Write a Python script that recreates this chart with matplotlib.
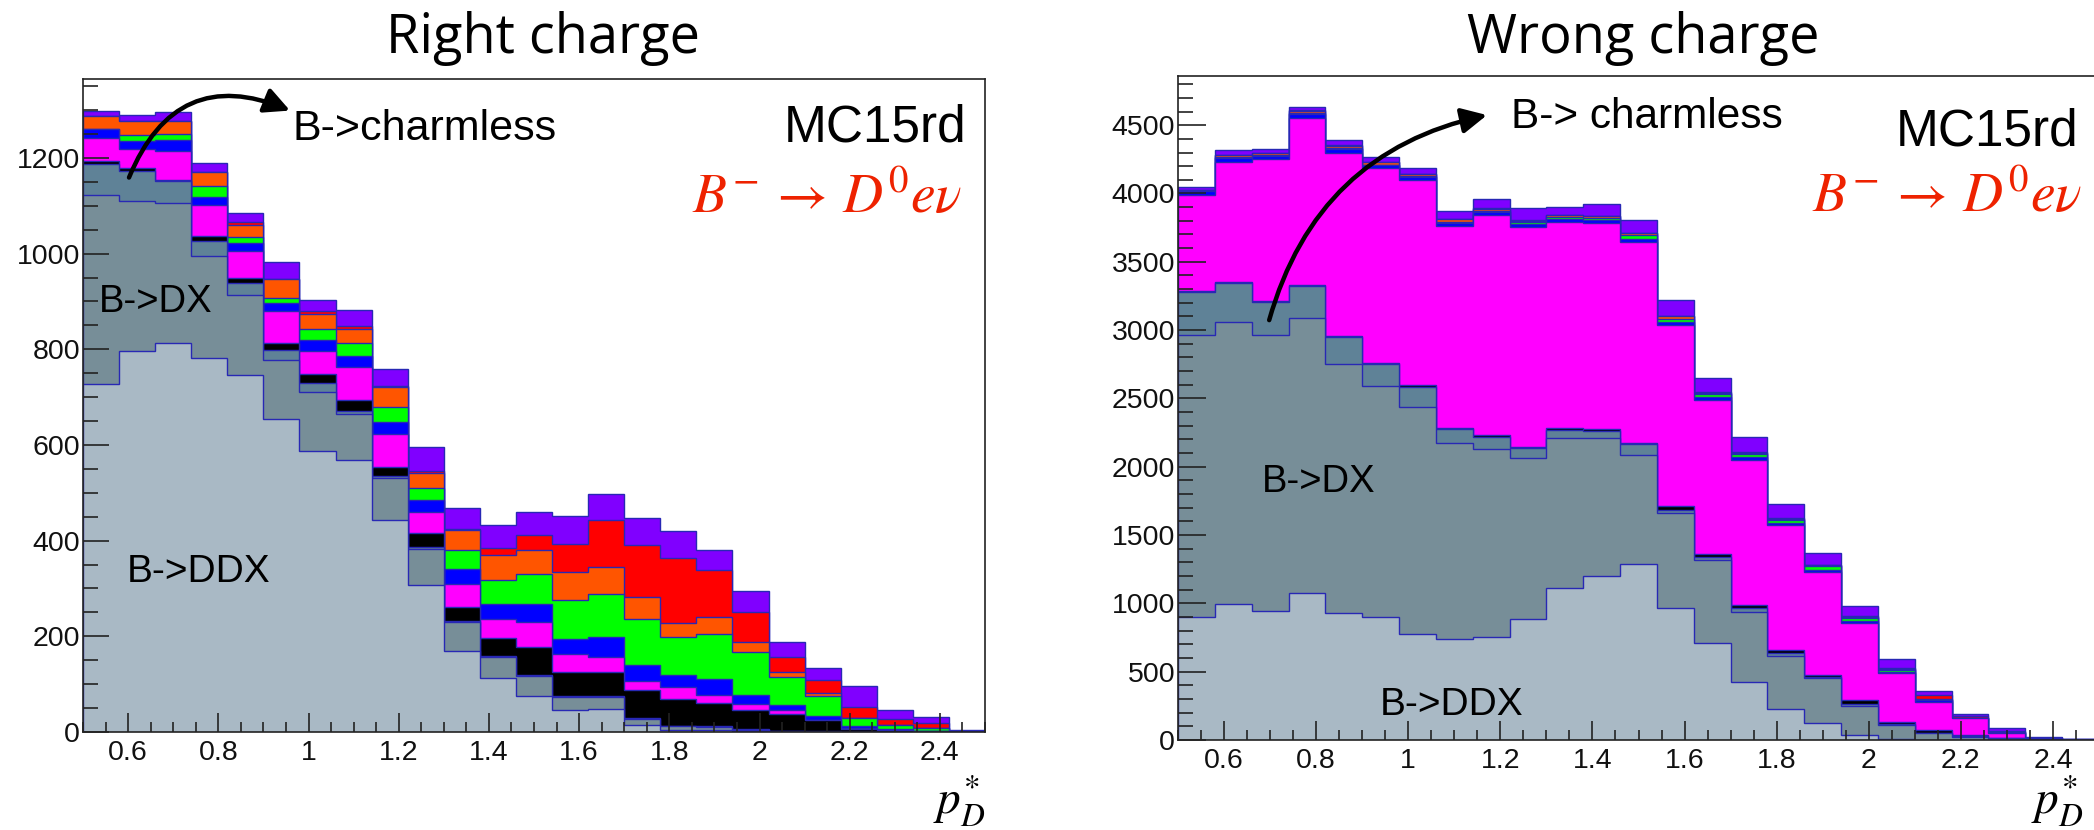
import numpy as np
import matplotlib
matplotlib.use("Agg")
import matplotlib.pyplot as plt
from matplotlib.ticker import MultipleLocator, FuncFormatter

plt.rcParams['mathtext.fontset'] = 'stix'

W, H = 2094, 830

# ---------------- data ----------------
edges = np.round(np.arange(0.5, 2.5001, 0.08), 4)
components = ["B->DDX", "B->DX", "B->charmless", "other1", "other2", "other3",
              "other4", "other5", "signal", "other6"]
colors = ['#a9b9c5', '#778e98', '#5f8297', '#000000', '#ff00ff', '#0000ff',
          '#00ff00', '#ff5500', '#ff0000', '#8000ff']
edge_color = '#2828b4'

# Right charge
rc_ddx = [728, 797, 813, 781, 747, 655, 587, 568, 444, 308, 170, 113, 75, 46, 49, 15, 5, 5, 2, 1, 0, 0, 0, 0, 0]
rc_dx = [395, 312, 292, 213, 167, 122, 123, 97, 87, 75, 59, 43, 42, 28, 25, 13, 7, 6, 3, 1, 1, 0, 0, 0, 0]
rc_charmless = [64, 64, 46, 33, 24, 22, 19, 7, 4, 4, 3, 2, 2, 2, 2, 2, 1, 1, 1, 1, 1, 1, 0, 0, 0]
rc_black = [7, 6, 3, 9, 11, 14, 20, 21, 19, 28, 30, 38, 59, 50, 50, 57, 57, 48, 40, 34, 23, 6, 4, 3, 1]
rc_magenta = [47, 40, 61, 66, 57, 68, 48, 70, 69, 44, 48, 40, 52, 37, 31, 20, 24, 17, 12, 10, 0, 1, 1, 0, 0]
rc_blue = [19, 17, 22, 17, 16, 15, 23, 24, 26, 25, 31, 32, 38, 32, 42, 33, 25, 33, 19, 9, 8, 4, 2, 0, 0]
rc_green = [0, 12, 13, 23, 12, 11, 23, 26, 30, 27, 39, 50, 62, 81, 90, 96, 80, 94, 91, 58, 42, 18, 7, 5, 1]
rc_orange = [28, 30, 28, 28, 26, 40, 31, 30, 43, 31, 42, 52, 50, 59, 56, 47, 29, 37, 20, 12, 7, 0, 0, 0, 0]
rc_red = [0, 0, 0, 0, 7, 0, 7, 5, 2, 4, 3, 14, 31, 59, 98, 107, 135, 97, 63, 31, 26, 23, 14, 10, 1]
rc_purple = [11, 12, 17, 19, 18, 35, 22, 34, 34, 50, 43, 48, 49, 57, 55, 57, 57, 43, 43, 31, 26, 43, 18, 14, 1]

# Wrong charge
wc_ddx = [902, 992, 946, 1073, 927, 902, 778, 737, 756, 883, 1116, 1200, 1285, 963, 712, 427, 228, 122, 36, 8, 2, 0, 0, 0, 0]
wc_dx = [2062, 2069, 2018, 2017, 1824, 1691, 1656, 1434, 1371, 1178, 1091, 1007, 800, 695, 605, 512, 387, 329, 215, 101, 46, 24, 10, 2, 0]
wc_charmless = [317, 281, 243, 235, 200, 156, 151, 102, 92, 73, 61, 54, 78, 25, 24, 24, 19, 9, 9, 6, 2, 2, 1, 1, 0]
wc_black = [9, 8, 8, 8, 9, 9, 10, 12, 13, 12, 17, 12, 12, 29, 20, 27, 26, 15, 32, 19, 23, 10, 6, 2, 1]
wc_magenta = [698, 882, 1037, 1223, 1338, 1425, 1503, 1476, 1610, 1606, 1508, 1513, 1472, 1325, 1127, 1059, 913, 752, 561, 354, 207, 122, 31, 3, 1]
wc_blue = [27, 28, 23, 29, 27, 22, 22, 24, 23, 28, 22, 22, 23, 23, 22, 21, 17, 18, 17, 12, 14, 3, 4, 2, 1]
wc_green = [3, 5, 5, 5, 5, 5, 5, 5, 10, 8, 15, 14, 25, 25, 20, 20, 20, 25, 25, 15, 2, 2, 3, 1, 0]
wc_orange = [7, 15, 15, 15, 20, 20, 15, 20, 13, 12, 12, 13, 15, 15, 10, 10, 10, 8, 5, 5, 1, 1, 1, 1, 1]
wc_red = [2, 3, 3, 5, 2, 2, 2, 2, 4, 3, 4, 3, 3, 3, 5, 5, 5, 4, 5, 8, 32, 11, 9, 3, 1]
wc_purple = [22, 34, 29, 20, 39, 37, 46, 62, 65, 88, 57, 84, 95, 117, 103, 110, 105, 84, 75, 62, 32, 15, 20, 4, 2]

rc_stack = [rc_ddx, rc_dx, rc_charmless, rc_black, rc_magenta, rc_blue,
            rc_green, rc_orange, rc_red, rc_purple]
wc_stack = [wc_ddx, wc_dx, wc_charmless, wc_black, wc_magenta, wc_blue,
            wc_green, wc_orange, wc_red, wc_purple]

titles = ["Right charge", "Wrong charge"]
x_ticks = [0.6, 0.8, 1.0, 1.2, 1.4, 1.6, 1.8, 2.0, 2.2, 2.4]

# ---------------- figure ----------------
fig = plt.figure(figsize=(W / 100, H / 100), dpi=100)


def fx(x):
    return x / W


def fy(y):
    return 1 - y / H


def axes_px(l, t, r, b):
    return fig.add_axes([fx(l), fy(b), (r - l) / W, (b - t) / H])


axL = axes_px(83, 79, 985, 732)
axR = axes_px(1178, 76, 2099, 740)


def draw_stack(ax, stack):
    cum = np.zeros(len(edges) - 1)
    tops = []
    for vals in stack:
        cum = cum + np.asarray(vals, dtype=float)
        tops.append(cum.copy())
    for top, c in reversed(list(zip(tops, colors))):
        ax.stairs(top, edges, baseline=0, fill=True, facecolor=c,
                  edgecolor=edge_color, linewidth=1.0)


def style_axes(ax, ymax, ymajor, yminor, ylen):
    ax.set_xlim(0.5, 2.5)
    ax.set_ylim(0, ymax)
    ax.set_xticks(x_ticks)
    ax.xaxis.set_minor_locator(MultipleLocator(0.05))
    ax.yaxis.set_major_locator(MultipleLocator(ymajor))
    ax.yaxis.set_minor_locator(MultipleLocator(yminor))
    ax.xaxis.set_major_formatter(FuncFormatter(lambda v, p: f"{v:g}"))
    ax.yaxis.set_major_formatter(FuncFormatter(lambda v, p: f"{v:g}"))
    ax.tick_params(axis='both', which='both', direction='in', top=False,
                   right=False, width=1.2, colors='#222222',
                   labelsize=20.5, labelcolor='#111111')
    ax.tick_params(axis='y', which='major', length=ylen, pad=2)
    ax.tick_params(axis='y', which='minor', length=ylen * 0.55)
    ax.tick_params(axis='x', which='major', length=14, pad=6)
    ax.tick_params(axis='x', which='minor', length=7)
    for lab in ax.get_xticklabels() + ax.get_yticklabels():
        lab.set_fontfamily(['Liberation Sans', 'DejaVu Sans'])
    for s in ax.spines.values():
        s.set_linewidth(1.2)
        s.set_color('#222222')
    ax.set_axisbelow(False)


draw_stack(axL, rc_stack)
draw_stack(axR, wc_stack)
style_axes(axL, 1365, 200, 50, 19)
style_axes(axR, 4860, 500, 100, 20)

# arrows to the charmless component
axL.annotate('', xy=(0.959, 1299), xytext=(0.602, 1159),
             arrowprops=dict(arrowstyle='-|>', connectionstyle='arc3,rad=-0.5',
                             lw=3.2, color='black', mutation_scale=38,
                             shrinkA=0, shrinkB=0))
axR.annotate('', xy=(1.171, 4574), xytext=(0.698, 3073),
             arrowprops=dict(arrowstyle='-|>', connectionstyle='arc3,rad=-0.3',
                             lw=3.2, color='black', mutation_scale=38,
                             shrinkA=0, shrinkB=0))

sans = ['Liberation Sans', 'DejaVu Sans']


def ftext(x, y, s, size, ha='left', color='black', family=None, **kw):
    fig.text(fx(x), fy(y), s, fontsize=size, ha=ha, va='baseline',
             color=color, family=family if family else sans, **kw)


decay = r"$B^{-}\,\rightarrow\,D^{0}e\nu$"
xlabel = r"$p_{D}^{*}$"

# titles
ftext(543, 53, titles[0], 39, ha='center', family=['Open Sans', 'DejaVu Sans'])
ftext(1643, 53, titles[1], 39, ha='center', family=['Open Sans', 'DejaVu Sans'])

# left panel labels
ftext(292, 140, "B->charmless", 31)
ftext(967, 142, "MC15rd", 37, ha='right')
ftext(962, 213, decay, 40, ha='right', color='#ee2200')
ftext(99, 312, "B->DX", 27.5)
ftext(127, 582, "B->DDX", 28)
ftext(985, 814, xlabel, 34, ha='right')

# right panel labels
ftext(1511, 128, "B-> charmless", 30.5)
ftext(2078, 145, "MC15rd", 37, ha='right')
ftext(2082, 212, decay, 40, ha='right', color='#ee2200')
ftext(1262, 492, "B->DX", 27.5)
ftext(1380, 715, "B->DDX", 28)
ftext(2083, 814, xlabel, 34, ha='right')

fig.savefig("out.png", dpi=100)
